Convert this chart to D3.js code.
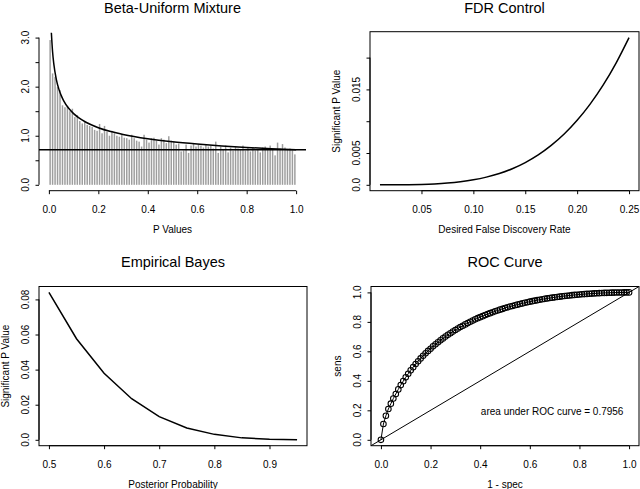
<!DOCTYPE html>
<html><head><meta charset="utf-8">
<script src="https://cdn.jsdelivr.net/npm/d3@7"></script>
<style>
html,body{margin:0;padding:0;background:#fff;}
svg{display:block;font-family:"Liberation Sans",Arial,Helvetica,sans-serif;}
</style></head><body>
<svg id="c" width="640" height="489"></svg>
<script>
// ---------- DATA ----------
// Panel 1: Beta-Uniform Mixture histogram (100 bins of width 0.01 on [0,1])
const histDensity = [2.95,2.27,2.20,1.99,1.93,1.62,1.58,1.60,1.50,1.55,
  1.38,1.42,1.30,1.25,1.28,1.22,1.20,1.18,1.12,1.10,
  1.24,1.05,1.20,1.08,1.00,1.10,1.05,1.00,0.98,1.02,
  0.96,0.95,0.92,1.02,0.95,0.90,0.88,0.78,1.02,0.92,
  0.86,0.95,0.96,0.90,0.82,0.95,0.92,0.85,0.99,0.90,
  0.88,0.82,0.84,0.68,0.70,0.82,0.65,0.80,0.84,0.78,
  0.82,0.80,0.76,0.82,0.78,0.80,0.74,0.88,0.65,0.78,
  0.72,0.80,0.66,0.76,0.70,0.78,0.74,0.72,0.80,0.70,
  0.75,0.68,0.76,0.70,0.72,0.66,0.76,0.78,0.74,0.80,
  0.72,0.60,0.86,0.74,0.83,0.76,0.72,0.74,0.70,0.62];
const binWidth = 0.01;
const bumP       = [0.01,0.015,0.02,0.03,0.04,0.05,0.06,0.08,0.10,0.12,0.15,0.20,0.25,0.30,0.40,0.50,0.60,0.70,0.80,0.90,1.00];
const bumDensity = [3.10,2.706,2.459,2.149,1.955,1.817,1.712,1.559,1.451,1.369,1.275,1.164,1.085,1.026,0.939,0.877,0.831,0.793,0.762,0.736,0.714];
const bumUniform = 0.714;
const histXTicks = [0,0.2,0.4,0.6,0.8,1.0];
const histYTicks = [0,0.5,1,1.5,2,2.5,3];
const histYLabels = [0,1,2,3];

// Panel 2: FDR Control
const fdrRate = [0.01,0.025,0.0375,0.05,0.0625,0.075,0.0875,0.1,0.1125,0.125,0.1375,0.15,0.1625,0.175,0.1875,0.2,0.2125,0.225,0.2375,0.25];
const fdrPval = [0.0000002,0.0000046,0.000021,0.00006,0.000137,0.000269,0.000477,0.00078,0.00121,0.00178,0.00253,0.0035,0.0047,0.00619,0.00798,0.01014,0.01269,0.01567,0.01915,0.02315];
const fdrXTicks = [0.05,0.10,0.15,0.20,0.25];
const fdrYTicks = [0,0.005,0.010,0.015,0.020];
const fdrYLabels = ["0.0","0.005",null,"0.015",null];

// Panel 3: Empirical Bayes
const ebProb = [0.50,0.55,0.60,0.65,0.70,0.75,0.80,0.85,0.90,0.95];
const ebPval = [0.084,0.0576,0.0379,0.0234,0.0132,0.0067,0.0031,0.0011,0.0003,0.00005];
const ebXTicks = [0.5,0.6,0.7,0.8,0.9];
const ebYTicks = [0,0.02,0.04,0.06,0.08];

// Panel 4: ROC curve
const rocFpr = [0,0.01,0.02,0.03,0.04,0.05,0.06,0.07,0.08,0.09,0.10,0.11,0.12,0.13,0.14,0.15,0.16,0.17,0.18,0.19,
  0.20,0.21,0.22,0.23,0.24,0.25,0.26,0.27,0.28,0.29,0.30,0.31,0.32,0.33,0.34,0.35,0.36,0.37,0.38,0.39,
  0.40,0.41,0.42,0.43,0.44,0.45,0.46,0.47,0.48,0.49,0.50,0.51,0.52,0.53,0.54,0.55,0.56,0.57,0.58,0.59,
  0.60,0.61,0.62,0.63,0.64,0.65,0.66,0.67,0.68,0.69,0.70,0.71,0.72,0.73,0.74,0.75,0.76,0.77,0.78,0.79,
  0.80,0.81,0.82,0.83,0.84,0.85,0.86,0.87,0.88,0.89,0.90,0.91,0.92,0.93,0.94,0.95,0.96,0.97,0.98,0.99,1.00];
const rocSens = [0,0.107,0.163,0.209,0.245,0.280,0.311,0.342,0.371,0.398,0.424,0.448,0.471,0.493,0.514,0.533,0.552,0.570,0.587,0.603,
  0.618,0.634,0.648,0.662,0.675,0.688,0.700,0.712,0.723,0.734,0.745,0.755,0.765,0.774,0.783,0.792,0.801,0.809,0.817,0.825,
  0.832,0.839,0.846,0.853,0.859,0.865,0.872,0.877,0.883,0.888,0.894,0.899,0.904,0.908,0.913,0.917,0.9215,0.9255,0.9296,0.9334,
  0.937,0.9405,0.9439,0.9473,0.9503,0.9533,0.9562,0.9591,0.9617,0.9643,0.9667,0.969,0.9713,0.9734,0.9754,0.9774,0.9792,0.981,0.9827,0.9842,
  0.9858,0.9872,0.9885,0.9897,0.9909,0.992,0.993,0.994,0.9948,0.9956,0.9964,0.997,0.9976,0.9981,0.9986,0.999,0.9993,0.9996,0.9998,0.9999,1.0];
const rocTicks = [0,0.2,0.4,0.6,0.8,1.0];
const rocAUCText = "area under ROC curve = 0.7956";

// ---------- DRAW ----------
const svg = d3.select("#c");
const TICK = 3.5;
const fmt1 = d3.format(".1f");

function clip(id, x0, x1, y0, y1){
  svg.append("clipPath").attr("id", id).append("rect")
    .attr("x", x0).attr("y", y0).attr("width", x1 - x0).attr("height", y1 - y0);
}
function title(t, cx, y){
  svg.append("text").attr("x", cx).attr("y", y).attr("text-anchor","middle")
    .attr("font-size", 14.5).attr("fill","#000").text(t);
}
function xAxis(x, yPos, ticks, labels, lineFromTo){
  const g = svg.append("g").attr("transform", `translate(0,${yPos})`);
  const ax = d3.axisBottom(x).tickValues(ticks).tickSize(TICK).tickSizeOuter(0).tickPadding(12)
    .tickFormat((d,i)=>labels[i]);
  g.call(ax);
  g.select(".domain").remove();
  g.append("line").attr("x1", x(lineFromTo[0])).attr("x2", x(lineFromTo[1])).attr("stroke","#000");
  g.selectAll(".tick line").attr("stroke","#000");
  g.selectAll(".tick text").attr("font-size",10).attr("fill","#000").attr("font-family",null);
}
function yAxis(y, xPos, ticks, labels, lineFromTo){
  const g = svg.append("g").attr("transform", `translate(${xPos},0)`);
  const ax = d3.axisLeft(y).tickValues(ticks).tickSize(TICK).tickSizeOuter(0).tickFormat("");
  g.call(ax);
  g.select(".domain").remove();
  g.append("line").attr("y1", y(lineFromTo[0])).attr("y2", y(lineFromTo[1])).attr("stroke","#000");
  g.selectAll(".tick line").attr("stroke","#000");
  ticks.forEach((t,i)=>{
    if (labels[i] == null) return;
    g.append("text").attr("transform", `translate(${-10.4},${y(t)}) rotate(-90)`)
      .attr("text-anchor","middle").attr("font-size",10).attr("fill","#000").text(labels[i]);
  });
}
function box(x0,x1,y0,y1){
  svg.append("rect").attr("x",x0).attr("y",y0).attr("width",x1-x0).attr("height",y1-y0)
    .attr("fill","none").attr("stroke","#000").attr("stroke-width",1);
}
function xTitle(t, cx, y){
  svg.append("text").attr("x",cx).attr("y",y).attr("text-anchor","middle").attr("font-size",10).attr("fill","#000").text(t);
}
function yTitle(t, x, cy){
  svg.append("text").attr("transform",`translate(${x},${cy}) rotate(-90)`).attr("text-anchor","middle")
    .attr("font-size",10).attr("fill","#000").text(t);
}

// ---- Panel 1 ----
{
  const L=39, R=306, T=31.7, B=190.7;
  const x = d3.scaleLinear().domain([-0.04,1.04]).range([L,R]);
  const y = d3.scaleLinear().domain([-0.12,3.12]).range([B,T]);
  clip("c1", L, R, T, B);
  const g = svg.append("g").attr("clip-path","url(#c1)");
  g.selectAll("rect.bar").data(histDensity).join("rect").attr("class","bar")
    .attr("x",(d,i)=>x(i*binWidth)+0.5)
    .attr("width",(d,i)=>x((i+1)*binWidth)-x(i*binWidth)-1)
    .attr("y",d=>y(d)).attr("height",d=>y(0)-y(d))
    .attr("fill","#9e9e9e");
  g.append("line").attr("x1",L).attr("x2",R).attr("y1",y(bumUniform)).attr("y2",y(bumUniform))
    .attr("stroke","#000").attr("stroke-width",1.5);
  g.append("path").datum(bumP.map((p,i)=>[p,bumDensity[i]]))
    .attr("d", d3.line().x(d=>x(d[0])).y(d=>y(d[1])).curve(d3.curveMonotoneX))
    .attr("fill","none").attr("stroke","#000").attr("stroke-width",1.5);
  xAxis(x, B, histXTicks, histXTicks.map(fmt1), [0,1]);
  yAxis(y, L, histYTicks, histYTicks.map(v=>histYLabels.includes(v)?fmt1(v):null), [0,3]);
  title("Beta-Uniform Mixture", (L+R)/2, 12.5);
  xTitle("P Values", (L+R)/2, B+42);
}

// ---- Panel 2 ----
{
  const L=370, R=639, T=31.7, B=190.7;
  const x = d3.scaleLinear().domain([0.0004,0.2596]).range([L,R]);
  const y = d3.scaleLinear().domain([-0.000926,0.024076]).range([B,T]);
  clip("c2", L, R, T, B);
  svg.append("path").attr("clip-path","url(#c2)").datum(fdrRate.map((r,i)=>[r,fdrPval[i]]))
    .attr("d", d3.line().x(d=>x(d[0])).y(d=>y(d[1])).curve(d3.curveMonotoneX))
    .attr("fill","none").attr("stroke","#000").attr("stroke-width",1.5);
  box(L,R,T,B);
  xAxis(x, B, fdrXTicks, fdrXTicks.map(d3.format(".2f")), [0.05,0.25]);
  yAxis(y, L, fdrYTicks, fdrYLabels, [0,0.020]);
  title("FDR Control", (L+R)/2, 12.5);
  xTitle("Desired False Discovery Rate", (L+R)/2, B+42);
  yTitle("Significant P Value", L-30, (T+B)/2);
}

// ---- Panel 3 ----
{
  const L=39, R=307, T=286.5, B=445.7;
  const x = d3.scaleLinear().domain([0.482,0.968]).range([L,R]);
  const y = d3.scaleLinear().domain([-0.00336,0.08736]).range([B,T]);
  svg.append("path").datum(ebProb.map((p,i)=>[p,ebPval[i]]))
    .attr("d", d3.line().x(d=>x(d[0])).y(d=>y(d[1])))
    .attr("fill","none").attr("stroke","#000").attr("stroke-width",1.5);
  box(L,R,T,B);
  xAxis(x, B, ebXTicks, ebXTicks.map(fmt1), [0.5,0.9]);
  yAxis(y, L, ebYTicks, ebYTicks.map(v=>v===0?"0.0":d3.format(".2f")(v)), [0,0.08]);
  title("Empirical Bayes", (L+R)/2, 267);
  xTitle("Posterior Probability", (L+R)/2, B+42);
  yTitle("Significant P Value", L-30, (T+B)/2);
}

// ---- Panel 4 ----
{
  const L=371, R=639, T=286.5, B=445.7;
  const x = d3.scaleLinear().domain([-0.04,1.04]).range([L,R]);
  const y = d3.scaleLinear().domain([-0.04,1.04]).range([B,T]);
  clip("c4", L, R, T, B);
  const g = svg.append("g").attr("clip-path","url(#c4)");
  g.append("line").attr("x1",x(-0.04)).attr("y1",y(-0.04)).attr("x2",x(1.04)).attr("y2",y(1.04))
    .attr("stroke","#000").attr("stroke-width",1);
  const pts = rocFpr.map((f,i)=>[f,rocSens[i]]);
  g.append("path").datum(pts).attr("d", d3.line().x(d=>x(d[0])).y(d=>y(d[1])))
    .attr("fill","none").attr("stroke","#000").attr("stroke-width",1);
  g.selectAll("circle").data(pts).join("circle")
    .attr("cx",d=>x(d[0])).attr("cy",d=>y(d[1])).attr("r",2.8)
    .attr("fill","none").attr("stroke","#000").attr("stroke-width",1.05);
  box(L,R,T,B);
  xAxis(x, B, rocTicks, rocTicks.map(fmt1), [0,1]);
  yAxis(y, L, rocTicks, rocTicks.map(fmt1), [0,1]);
  title("ROC Curve", (L+R)/2, 267);
  xTitle("1 - spec", (L+R)/2, B+42);
  yTitle("sens", L-30, (T+B)/2);
  svg.append("text").attr("x", x(0.69)).attr("y", y(0.19)+3.6).attr("text-anchor","middle")
    .attr("font-size",10).attr("fill","#000").text(rocAUCText);
}
</script>
</body></html>
